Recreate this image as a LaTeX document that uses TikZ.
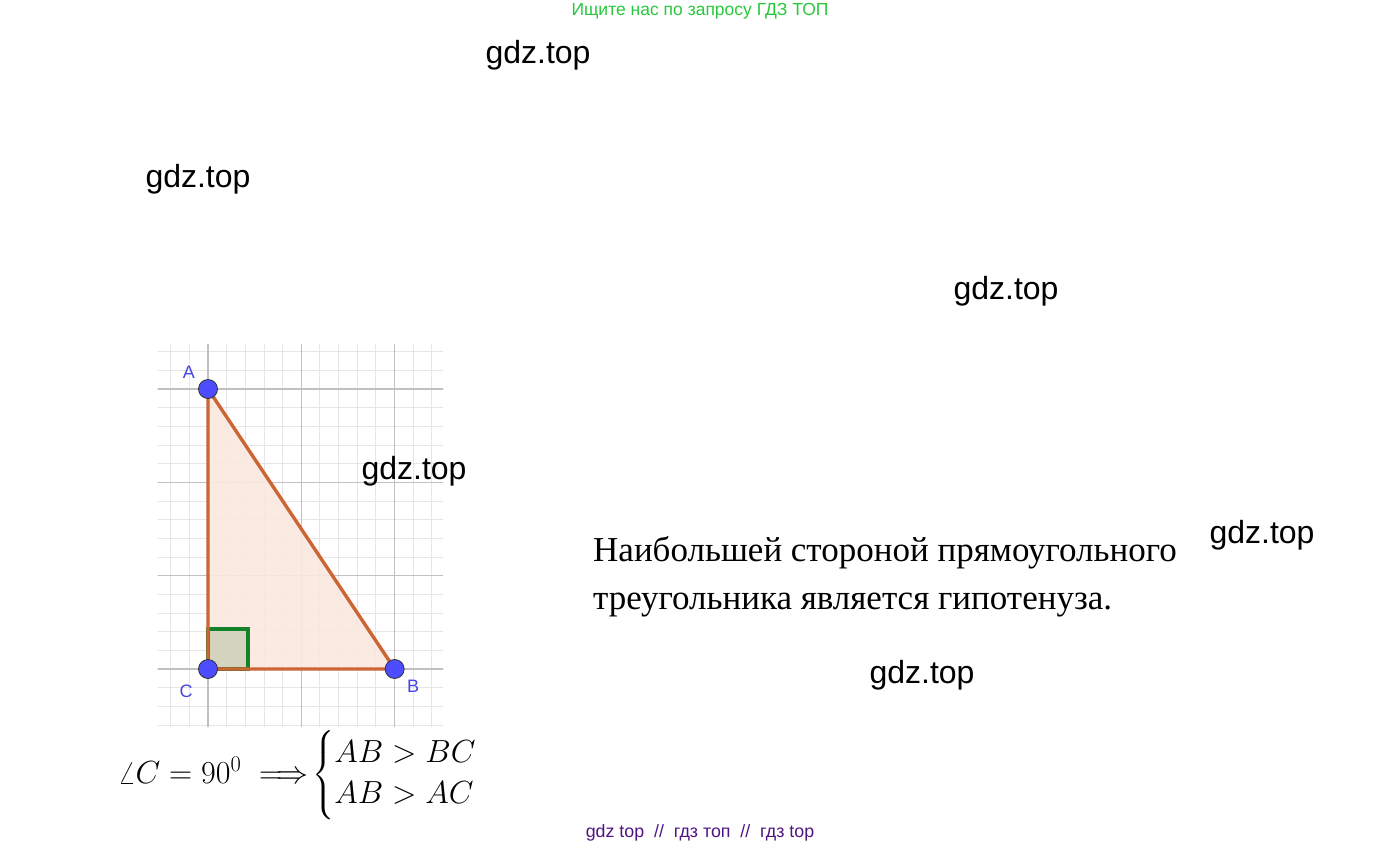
\RequirePackage{fix-cm}
\documentclass[tikz,border=0pt]{standalone}
\usepackage{fontspec}
\usepackage{amsmath}
\setmainfont{Liberation Serif}
\newfontfamily\wmfont{Liberation Sans}
\definecolor{wmgreen}{RGB}{40,200,60}
\definecolor{wmpurple}{RGB}{80,20,130}
\definecolor{gridminor}{RGB}{230,230,230}
\definecolor{gridmajor}{RGB}{192,192,192}
\definecolor{edgebrown}{RGB}{204,100,52}
\definecolor{fillpeach}{RGB}{250,232,222}
\definecolor{anglegreen}{RGB}{20,130,40}
\definecolor{anglefill}{RGB}{212,212,190}
\definecolor{ptblue}{RGB}{77,77,255}
\definecolor{lblblue}{RGB}{68,68,230}

\begin{document}
\begin{tikzpicture}
[
    x=1pt, y=-1pt,
    wmark/.style={font=\wmfont\fontsize{32}{38}\selectfont},
    point/.style={circle, fill=ptblue, draw=black!80, line width=0.8pt, minimum size=19pt, inner sep=0pt},
    ptlabel/.style={font=\wmfont\fontsize{18}{21}\selectfont, text=lblblue},
    rutext/.style={anchor=base west, font=\fontsize{35}{40}\selectfont},
]
\useasboundingbox (0,0) rectangle (1400,848);

% grid with triangle, C at the origin
\begin{scope}[shift={(208,669)}, x=93.33pt, y=93.33pt]
\clip (-0.54,-0.62) rectangle (2.52,3.48);
\draw[gridminor, line width=1pt, step=0.2] (-1,-1) grid (3,4);
\draw[gridmajor, line width=1.3pt, step=1] (-1,-1) grid (3,4);
\coordinate (C) at (0,0);
\coordinate (B) at (2,0);
\coordinate (A) at (0,3);
\coordinate (R) at (0.43,0.43);
\fill[fillpeach, opacity=0.9] (A) -- (B) -- (C) -- cycle;
\draw[anglegreen, fill=anglefill, line width=3.5pt] (C) rectangle (R);
\draw[edgebrown, line width=3.4pt, line join=round] (A) -- (B) -- (C) -- cycle;
\end{scope}
\node[point] (pA) at (A) {};
\node[point] (pB) at (B) {};
\node[point] (pC) at (C) {};
\node[ptlabel] (lA) at (189,372) {A};
\node[ptlabel] (lB) at (413,686) {B};
\node[ptlabel] (lC) at (186,691) {C};

% formula
\node[anchor=base west, font=\fontsize{32}{41}\selectfont, inner sep=0pt] (formula) at (118,783)
{$\angle C = 90^0 \;\Longrightarrow\!\left\{\begin{array}{@{}l@{}}AB > BC\\ AB > AC\end{array}\right.$};

% text
\node[rutext, inner sep=0pt] (line1) at (593,561) {Наибольшей стороной прямоугольного};
\node[rutext, inner sep=0pt] (line2) at (593,609) {треугольника является гипотенуза.};

% watermarks
\node[wmark] (w1) at (538,55) {gdz.top};
\node[wmark] (w2) at (198,179) {gdz.top};
\node[wmark] (w3) at (1006,291) {gdz.top};
\node[wmark] (w4) at (414,471) {gdz.top};
\node[wmark] (w5) at (1262,535) {gdz.top};
\node[wmark] (w6) at (922,675) {gdz.top};
\node[font=\wmfont\fontsize{17.5}{20}\selectfont, text=wmgreen] (top) at (700,11) {Ищите нас по запросу ГДЗ ТОП};
\node[font=\wmfont\fontsize{17.8}{20}\selectfont, text=wmpurple] (bottom) at (700,833) {gdz top\ \ //\ \ гдз топ\ \ //\ \ гдз top};
\end{tikzpicture}
\end{document}
